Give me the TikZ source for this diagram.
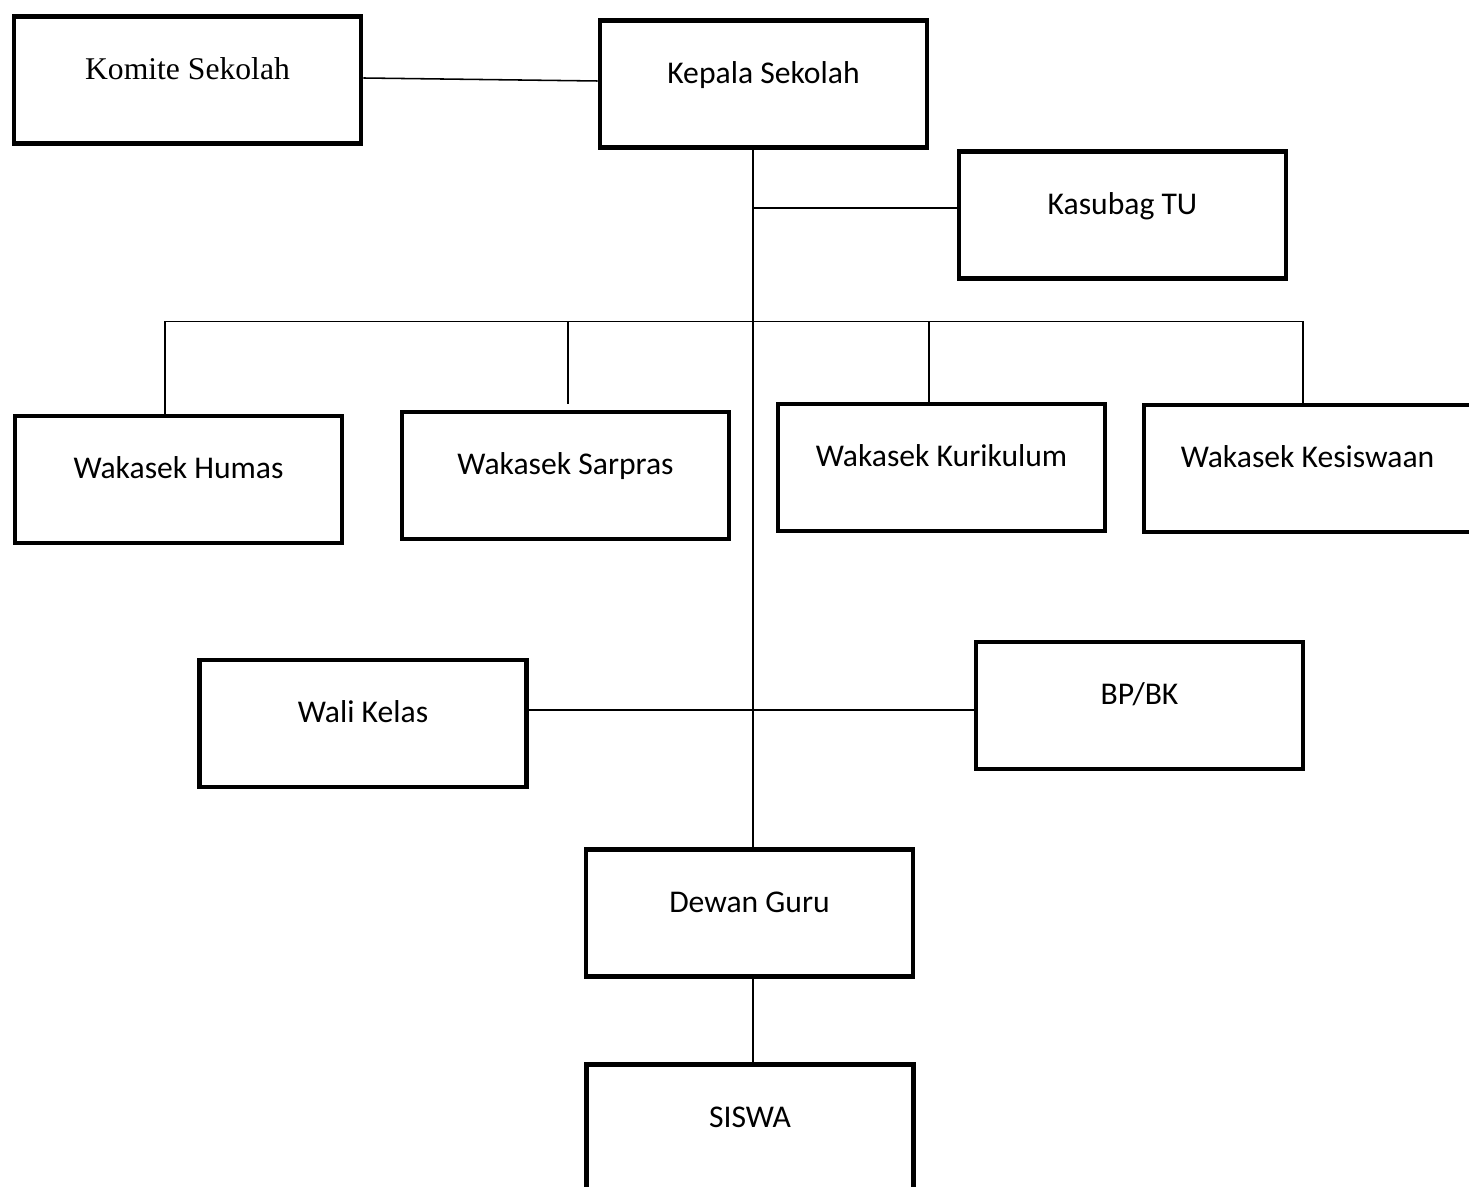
\documentclass[tikz,border=0pt]{standalone}
\usepackage{fontspec}
\setmainfont{Carlito}
\newfontfamily\komitefont{Liberation Serif}
\usetikzlibrary{calc}

\begin{document}
\begin{tikzpicture}[x=0.025cm,y=-0.025cm,
        box/.style={draw,line width=3.3pt,inner sep=0pt,minimum width=8.175cm,
            text height=1.575cm,text depth=1.6cm,font=\fontsize{22.5}{26}\selectfont},
        conn/.style={line width=1.1pt}]
        \useasboundingbox (0,0) rectangle (1469,1187);

        \node[box,minimum width=8.675cm,font=\komitefont\fontsize{22.5}{26}\selectfont] (komite) at (187.5,80) {Komite Sekolah};
        \node[box] (kepala) at (763.5,84) {Kepala Sekolah};
        \node[box] (kasubag) at (1122.5,215) {Kasubag TU};
        \node[box] (humas) at (178.5,479.5) {Wakasek Humas};
        \node[box] (sarpras) at (565.5,475.5) {Wakasek Sarpras};
        \node[box] (kurikulum) at (941.5,467.5) {Wakasek Kurikulum};
        \node[box] (kesiswaan) at (1307.5,468.5) {Wakasek Kesiswaan};
        \node[box] (wali) at (363,723.5) {Wali Kelas};
        \node[box] (bpbk) at (1139.5,705.5) {BP/BK};
        \node[box] (dewan) at (749.5,913) {Dewan Guru};
        \node[box] (siswa) at (750,1128) {SISWA};

        \coordinate (t) at (753,0);
        \coordinate (k1) at (753,208);
        \coordinate (bl) at (165,321.5);
        \coordinate (br) at (1303,321.5);
        \coordinate (b2) at (568,321.5);
        \coordinate (b3) at (929,321.5);
        \coordinate (w1) at (753,710);

        \draw[conn] ($(komite.east)+(0,-2)$) -- ($(kepala.west)+(0,-3)$);
        \draw[conn] (kepala.south -| t) -- (dewan.north -| t);
        \draw[conn] (k1) -- (k1 -| kasubag.west);
        \draw[conn] (bl) -- (br);
        \draw[conn] (bl) -- (bl |- humas.north);
        \draw[conn] (b2) -- ($(b2 |- sarpras.north)+(0,-6)$);
        \draw[conn] (b3) -- (b3 |- kurikulum.north);
        \draw[conn] (br) -- (br |- kesiswaan.north);
        \draw[conn] (w1 -| wali.east) -- (w1 -| bpbk.west);
        \draw[conn] (dewan.south -| t) -- (siswa.north -| t);
    \end{tikzpicture}
\end{document}
